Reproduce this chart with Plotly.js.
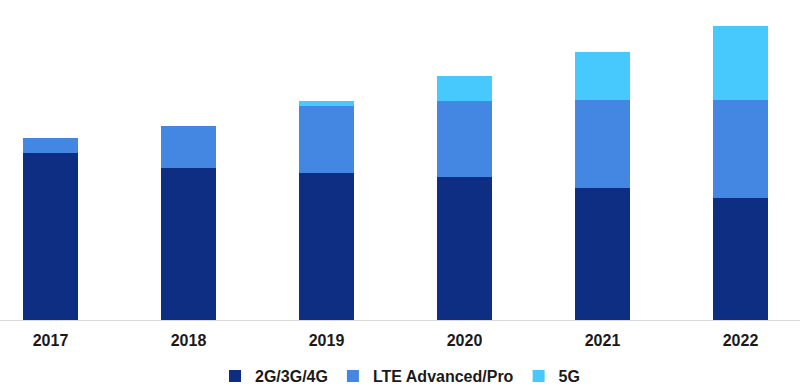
<!DOCTYPE html>
<html>
<head>
<meta charset="utf-8">
<script src="https://cdn.plot.ly/plotly-3.0.1.min.js"></script>
<style>html,body{margin:0;padding:0;background:#fff;}#chart{width:800px;height:388px;}</style>
</head>
<body>
<div id="chart"></div>
<script>
const years = ["2017", "2018", "2019", "2020", "2021", "2022"];
const legacy = [166.7, 152, 146.7, 142.7, 131.7, 121.7];
const lteAdv = [15, 42, 67.6, 76.3, 88, 98.3];
const fiveG = [0, 0, 5, 25.3, 48, 74];
const seriesNames = ["2G/3G/4G", "LTE Advanced/Pro", "5G"];
const colors = ["#0d2e82", "#4387e2", "#47c9fe"];

const data = [legacy, lteAdv, fiveG].map((vals, i) => ({
  type: "bar",
  x: years,
  y: vals,
  name: seriesNames[i],
  marker: {color: colors[i], line: {width: 0}},
  hoverinfo: "x+y+name"
}));

const layout = {
  width: 800,
  height: 388,
  margin: {l: 0, r: 0, t: 20, b: 68, autoexpand: false},
  barmode: "stack",
  bargap: 0.6,
  paper_bgcolor: "#ffffff",
  plot_bgcolor: "#ffffff",
  font: {family: "Liberation Sans, Arial, sans-serif", color: "#1a1a1a"},
  xaxis: {
    type: "category",
    range: [-0.366, 5.431],
    showline: true,
    linecolor: "#d9d9d9",
    linewidth: 1,
    ticks: "",
    showgrid: false,
    zeroline: false,
    automargin: false,
    tickfont: {size: 16, weight: "bold", color: "#1a1a1a"},
    ticklabelstandoff: 6
  },
  yaxis: {
    range: [0, 300],
    visible: false,
    showgrid: false,
    zeroline: false
  },
  showlegend: true,
  legend: {
    orientation: "h",
    x: 0.5,
    xanchor: "center",
    y: -0.187,
    yanchor: "middle",
    itemwidth: 30,
    font: {size: 16, weight: "bold", color: "#1a1a1a"},
    traceorder: "normal"
  }
};

Plotly.newPlot("chart", data, layout, {displayModeBar: false, staticPlot: true});
</script>
</body>
</html>
